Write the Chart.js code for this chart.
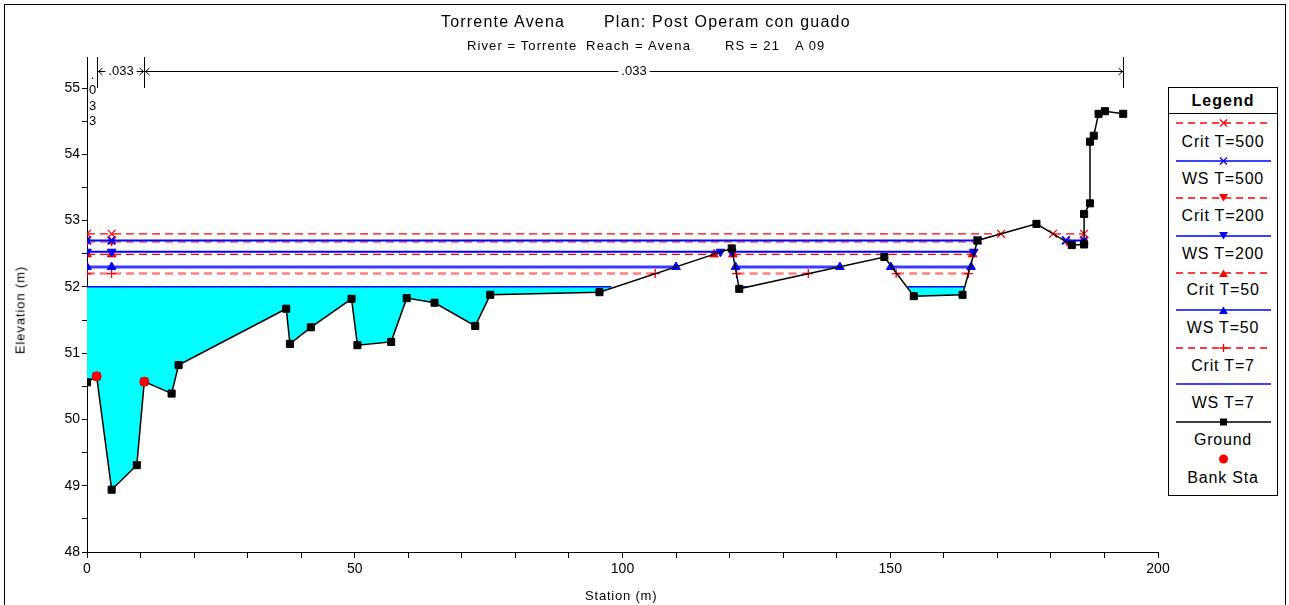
<!DOCTYPE html>
<html>
<head>
<meta charset="utf-8">
<script src="https://cdn.jsdelivr.net/npm/chart.js@4.4.0/dist/chart.umd.min.js"></script>
<style>
  html,body{margin:0;padding:0;background:#fff;}
  body{width:1289px;height:605px;position:relative;overflow:hidden;font-family:"Liberation Sans",Arial,sans-serif;color:#000;}
  #frame{position:absolute;left:4px;top:4px;width:1280px;height:640px;border:1px solid #000;}
  canvas{position:absolute;left:0;top:0;}
  .t{position:absolute;white-space:pre;line-height:1;}
  #legend{position:absolute;left:1168px;top:87px;width:108px;height:407px;border:1px solid #000;background:#fff;}
  #legend .hd{position:absolute;left:0;top:0;width:108px;height:25px;border-bottom:1px solid #000;text-align:center;font-weight:bold;font-size:16px;line-height:25px;letter-spacing:1px;}
  #legend .it{position:absolute;left:0;width:108px;text-align:center;font-size:16px;line-height:1;letter-spacing:0.8px;}
  #legend svg{position:absolute;left:7px;}
</style>
</head>
<body>
<div id="frame"></div>
<canvas id="c" width="1289" height="605"></canvas>

<div class="t" style="left:441px;top:14px;font-size:16px;letter-spacing:1.2px;">Torrente Avena</div>
<div class="t" style="left:604px;top:14px;font-size:16px;letter-spacing:1.2px;">Plan: Post Operam con guado</div>
<div class="t" style="left:467px;top:39px;font-size:13px;letter-spacing:1.1px;">River = Torrente</div>
<div class="t" style="left:586px;top:39px;font-size:13px;letter-spacing:1.3px;">Reach = Avena</div>
<div class="t" style="left:725px;top:39px;font-size:13px;letter-spacing:1.1px;">RS = 21</div>
<div class="t" style="left:795px;top:39px;font-size:13px;letter-spacing:1.1px;">A 09</div>

<div class="t" style="left:585px;top:589px;font-size:13px;letter-spacing:0.8px;">Station (m)</div>
<div class="t" style="left:20px;top:310px;font-size:13px;letter-spacing:0.9px;transform:translate(-50%,-50%) rotate(-90deg);">Elevation (m)</div>

<div id="legend"><div class="hd">Legend</div></div>

<script>
// ---------------- DATA ----------------
const groundSta  = [0, 1.8, 4.6, 9.3, 10.7, 15.8, 17.1, 37.2, 37.9, 41.8, 49.4, 50.5, 56.8, 59.7, 64.9, 72.5, 75.3, 95.7, 120.4, 121.8, 148.9, 154.4, 163.5, 166.3, 177.3, 183.9, 186.2, 186.2, 187.3, 187.3, 188.0, 188.9, 190.1, 193.5];
const groundElev = [50.56, 50.65, 48.94, 49.31, 50.57, 50.39, 50.82, 51.67, 51.14, 51.39, 51.82, 51.12, 51.17, 51.83, 51.76, 51.41, 51.88, 51.92, 52.58, 51.97, 52.45, 51.86, 51.88, 52.70, 52.95, 52.63, 52.64, 53.10, 53.26, 54.19, 54.28, 54.61, 54.65, 54.61];

const bankSta  = [1.8, 10.7];
const bankElev = [50.65, 50.57];

// water surface / critical levels (m) and the stations where each line is drawn (null = break)
const critT500 = 52.80; const critT500Sta = [0, 4.6, 170.7, null, 180.4, 186.2];
const wsT500   = 52.70; const wsT500Sta   = [0, 4.6, 166.3, null, 182.8, 186.2];
const critT200 = 52.68; const critT200Sta = [0, 4.6, 166.1, null, 183.0, 186.2];
const wsT200   = 52.53; const wsT200Sta   = [0, 4.6, 118.3, null, 120.4, 165.6];
const critT50  = 52.49; const critT50Sta  = [0, 4.6, 117.1, null, 120.6, 165.4];
const wsT50    = 52.30; const wsT50Sta    = [0, 4.6, 110.0, null, 121.1, 140.6, null, 150.1, 165.1];
const critT7   = 52.20; const critT7Sta   = [0, 4.6, 106.1, null, 121.3, 134.7, null, 151.1, 164.6];
const wsT7     = 52.00; const wsT7Sta     = [0, 97.9, null, 121.6, 123.3, null, 153.3, 163.8];

// Manning's n regions
const nBreaks = [0, 1.8, 10.7, 193.5];
const nValues = ['.033', '.033', '.033'];

// axis ticks
const xMin = 0, xMax = 200, xStep = 10, xLabelEvery = 50;
const yMin = 48, yMax = 55, yStep = 0.5;

// ---------------- BUILD ----------------
function levelPts(level, sta){
  const out = []; let prev = 0;
  for (const s of sta){
    if (s === null) out.push({x: prev, y: null});
    else { out.push({x: s, y: level}); prev = s; }
  }
  return out;
}
const RED = '#ff0000', PINK = 'rgba(255,0,0,0.5)', BLUE = '#0000ff';

const datasets = [
  { label:'Bank Sta', data: bankSta.map((s,i)=>({x:s,y:bankElev[i]})), showLine:false,
    pointStyle:'circle', pointRadius:4.5, pointBackgroundColor:RED, pointBorderColor:RED, order:0 },
  { label:'Ground', data: groundSta.map((s,i)=>({x:s,y:groundElev[i]})), borderColor:'#000', borderWidth:1.5,
    pointStyle:'rect', pointRadius:5, pointBackgroundColor:'#000', pointBorderColor:'#000', pointBorderWidth:0, order:1 },
  { label:'Crit T=500', data: levelPts(critT500, critT500Sta), borderColor:RED, borderWidth:1.3, borderDash:[8,5],
    pointStyle:'crossRot', pointRadius:5.5, pointBorderColor:RED, pointBorderWidth:1.2, order:2 },
  { label:'WS T=500', data: levelPts(wsT500, wsT500Sta), borderColor:BLUE, borderWidth:2,
    pointStyle:'crossRot', pointRadius:5.5, pointBorderColor:BLUE, pointBorderWidth:2, order:3 },
  { label:'Crit T=200', data: levelPts(critT200, critT200Sta), borderColor:PINK, borderWidth:2.5, borderDash:[8,5],
    pointStyle:'triangle', rotation:180, pointRadius:4, pointBackgroundColor:RED, pointBorderColor:RED, order:4 },
  { label:'WS T=200', data: levelPts(wsT200, wsT200Sta), borderColor:BLUE, borderWidth:2,
    pointStyle:'triangle', rotation:180, pointRadius:5, pointBackgroundColor:BLUE, pointBorderColor:BLUE, order:5 },
  { label:'Crit T=50', data: levelPts(critT50, critT50Sta), borderColor:RED, borderWidth:1.3, borderDash:[8,5],
    pointStyle:'triangle', pointRadius:5, pointBackgroundColor:RED, pointBorderColor:RED, order:6 },
  { label:'WS T=50', data: levelPts(wsT50, wsT50Sta), borderColor:'#3b3bff', borderWidth:3,
    pointStyle:'triangle', pointRadius:5, pointBackgroundColor:BLUE, pointBorderColor:BLUE, order:7 },
  { label:'Crit T=7', data: levelPts(critT7, critT7Sta), borderColor:PINK, borderWidth:2.5, borderDash:[8,5],
    pointStyle:'cross', pointRadius:4.5, pointBorderColor:RED, pointBorderWidth:1.3, order:8 },
  { label:'WS T=7', data: levelPts(wsT7, wsT7Sta), borderColor:BLUE, borderWidth:1.5, pointRadius:0,
    fill:{target:1, above:'#00ffff', below:'rgba(0,0,0,0)'}, backgroundColor:'#00ffff', order:9 },
];
datasets.forEach(d=>{ d.spanGaps = false; d.tension = 0; if(!d.pointBorderWidth) d.pointBorderWidth = 1; if(d.fill===undefined) d.fill=false; });

const nPlugin = {
  id:'nvalues',
  afterDraw(chart){
    const ctx = chart.ctx, xs = chart.scales.x;
    const yTop = 57, yBot = 88, yLine = 71;
    ctx.save();
    ctx.strokeStyle = '#000'; ctx.fillStyle = '#000'; ctx.lineWidth = 1;
    ctx.font = '13px "Liberation Sans", Arial, sans-serif';
    ctx.textBaseline = 'middle';
    const px = nBreaks.map(b => Math.round(xs.getPixelForValue(b)) + 0.5);
    px.forEach(p => { ctx.beginPath(); ctx.moveTo(p, yTop); ctx.lineTo(p, yBot); ctx.stroke(); });
    for (let i = 0; i < nValues.length; i++){
      const a = px[i], b = px[i+1], txt = nValues[i];
      const w = ctx.measureText(txt).width;
      if (w + 12 < b - a){
        const mid = (a + b) / 2;
        ctx.textAlign = 'center';
        ctx.fillText(txt, mid, yLine);
        ctx.beginPath();
        ctx.moveTo(a, yLine + 0.5); ctx.lineTo(Math.max(a, mid - w/2 - 3), yLine + 0.5);
        ctx.moveTo(Math.min(b, mid + w/2 + 3), yLine + 0.5); ctx.lineTo(b, yLine + 0.5);
        ctx.stroke();
        ctx.beginPath();
        ctx.moveTo(a + 5, yLine - 3); ctx.lineTo(a + 1, yLine + 0.5); ctx.lineTo(a + 5, yLine + 4);
        ctx.moveTo(b - 5, yLine - 3); ctx.lineTo(b - 1, yLine + 0.5); ctx.lineTo(b - 5, yLine + 4);
        ctx.stroke();
      } else {
        ctx.textAlign = 'center';
        txt.split('').forEach((c, k) => ctx.fillText(c, a + 5, 75 + k * 15.5));
      }
    }
    ctx.restore();
  }
};

new Chart(document.getElementById('c'), {
  type:'line',
  data:{ datasets },
  options:{
    responsive:false, animation:false, devicePixelRatio:1,
    layout:{ padding:{ left:0, top:88, right:131, bottom:0 } },
    plugins:{ legend:{display:false}, tooltip:{enabled:false}, title:{display:false} },
    scales:{
      x:{ type:'linear', min:xMin, max:xMax,
          afterFit(s){ s.height = 53; },
          grid:{ drawOnChartArea:false, drawTicks:true, tickLength:6, color:'#000' },
          border:{ display:true, color:'#000', width:1 },
          ticks:{ stepSize:xStep, autoSkip:false, maxRotation:0, color:'#000', padding:3,
                  font:{ family:'"Liberation Sans", Arial, sans-serif', size:14 },
                  callback:(v)=> (v % xLabelEvery === 0 ? String(v) : '') } },
      y:{ type:'linear', min:yMin, max:yMax,
          afterFit(s){ s.width = 87; },
          grid:{ drawOnChartArea:false, drawTicks:true, tickLength:5, color:'#000' },
          border:{ display:true, color:'#000', width:1 },
          ticks:{ stepSize:yStep, autoSkip:false, color:'#000', padding:2,
                  font:{ family:'"Liberation Sans", Arial, sans-serif', size:14 },
                  callback:(v)=> (Number.isInteger(v) ? String(v) : '') } }
    }
  },
  plugins:[nPlugin]
});

// ---------------- LEGEND (HTML) ----------------
const legendItems = [
  {t:'Crit T=500', line:RED, dash:true, m:'x', mc:RED, ly:123, ty:134},
  {t:'WS T=500', line:BLUE, dash:false, m:'x', mc:BLUE, ly:161, ty:171},
  {t:'Crit T=200', line:RED, dash:true, m:'down', mc:RED, ly:198, ty:208},
  {t:'WS T=200', line:BLUE, dash:false, m:'down', mc:BLUE, ly:236, ty:246},
  {t:'Crit T=50', line:RED, dash:true, m:'up', mc:RED, ly:273, ty:282},
  {t:'WS T=50', line:BLUE, dash:false, m:'up', mc:BLUE, ly:310, ty:320},
  {t:'Crit T=7', line:RED, dash:true, m:'plus', mc:RED, ly:348, ty:358},
  {t:'WS T=7', line:BLUE, dash:false, m:null, mc:BLUE, ly:384, ty:395},
  {t:'Ground', line:'#000', dash:false, m:'sq', mc:'#000', ly:422, ty:432},
  {t:'Bank Sta', line:null, dash:false, m:'dot', mc:RED, ly:459, ty:470},
];
const lg = document.getElementById('legend');
const top0 = 88;
legendItems.forEach(it=>{
  const cy = 6, W = 95, cx = 47.5;
  let s = `<svg width="${W}" height="12" style="top:${it.ly - top0 - cy}px">`;
  if (it.line) s += `<line x1="0" y1="${cy}" x2="${W}" y2="${cy}" stroke="${it.line}" stroke-width="1.3" ${it.dash?'stroke-dasharray="7,5"':''}/>`;
  if (it.m==='x') s += `<path d="M${cx-3.5} ${cy-3.5}L${cx+3.5} ${cy+3.5}M${cx+3.5} ${cy-3.5}L${cx-3.5} ${cy+3.5}" stroke="${it.mc}" stroke-width="1.3"/>`;
  if (it.m==='down') s += `<path d="M${cx-4.5} ${cy-4}L${cx+4.5} ${cy-4}L${cx} ${cy+3.5}Z" fill="${it.mc}"/>`;
  if (it.m==='up') s += `<path d="M${cx-4.5} ${cy+4}L${cx+4.5} ${cy+4}L${cx} ${cy-3.5}Z" fill="${it.mc}"/>`;
  if (it.m==='plus') s += `<path d="M${cx-4} ${cy}L${cx+4} ${cy}M${cx} ${cy-4}L${cx} ${cy+4}" stroke="${it.mc}" stroke-width="1.3"/>`;
  if (it.m==='sq') s += `<rect x="${cx-3.5}" y="${cy-3.5}" width="7" height="7" fill="${it.mc}"/>`;
  if (it.m==='dot') s += `<circle cx="${cx}" cy="${cy}" r="4.5" fill="${it.mc}"/>`;
  s += `</svg>`;
  lg.insertAdjacentHTML('beforeend', s + `<div class="it" style="top:${it.ty - top0}px">${it.t}</div>`);
});
</script>
</body>
</html>
